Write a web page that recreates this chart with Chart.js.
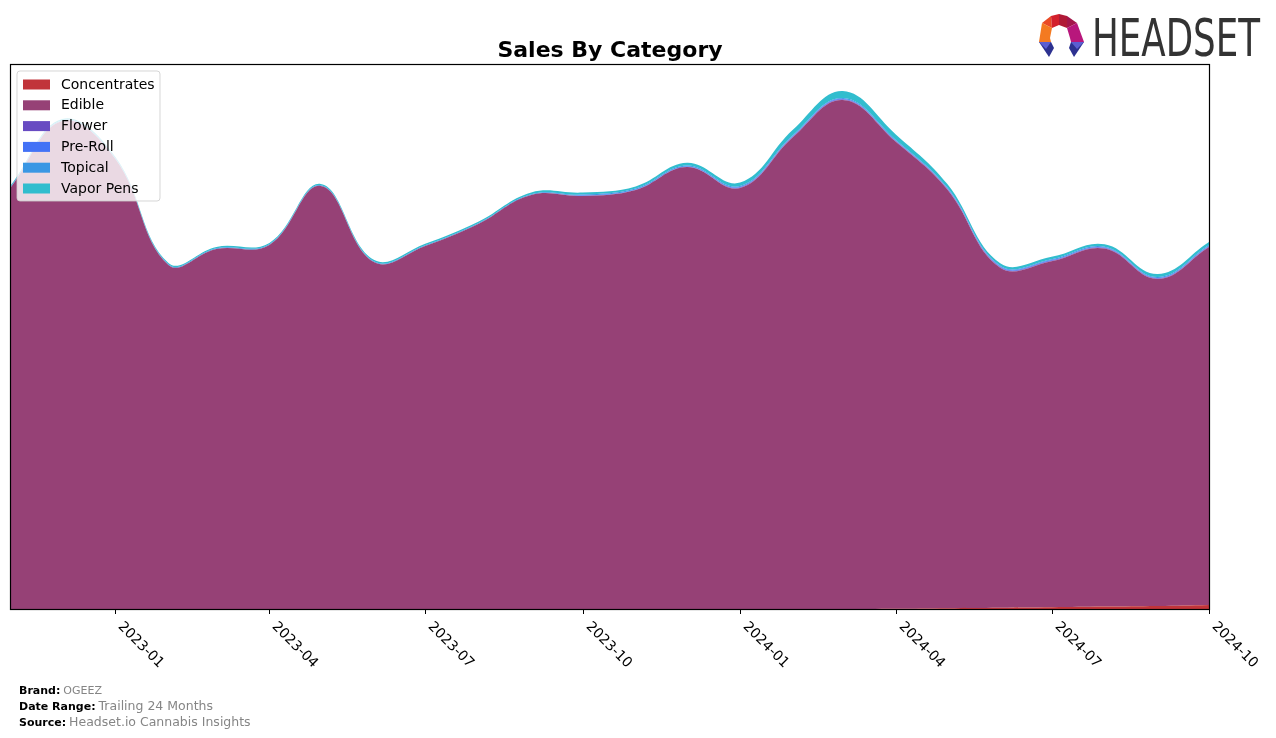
<!DOCTYPE html>
<html>
<head>
<meta charset="utf-8">
<script src="https://cdn.jsdelivr.net/npm/chart.js@4.4.1/dist/chart.umd.min.js"></script>
<style>
  html, body { margin: 0; padding: 0; background: #ffffff; }
  #wrap { width: 1276px; height: 738px; position: relative; }
</style>
</head>
<body>
<div id="wrap"><canvas id="c" width="1276" height="738"></canvas></div>
<script>
// ---- data (monthly, relative sales units) ----
const months = ['2022-11','2022-12','2023-01','2023-02','2023-03','2023-04','2023-05','2023-06',
                '2023-07','2023-08','2023-09','2023-10','2023-11','2023-12','2024-01','2024-02',
                '2024-03','2024-04','2024-05','2024-06','2024-07','2024-08','2024-09','2024-10'];
const concentrates = [0,0,0,0,0,0,0,0,0,0,0,0,0,0,0,0,0,0.2,0.8,1.3,1.8,2.4,3.0,4.0];
const edible = [422,488,450,344,360,364,423,347,363,385,414,413,419,442,421,472,509,467,419,340,346,358,327,358];
const flower = [0,0,0,0,0,0,0,0,0,0,0,0,0,0,0.5,0.5,0.5,0.5,0.5,0.5,0.5,0.5,0.5,0.5];
const preRoll = [0,0,0,0,0,0,0,0,0,0,0,0.6,0.6,0.6,0.6,0.6,0.6,0.6,0.6,0.6,0.6,0.6,0.6,0.6];
const topical = [0.8,0.8,0.8,0.8,0.8,0.8,0.8,0.8,0.8,0.8,0.8,0.8,0.8,0.8,0.8,0.8,0.8,0.8,0.8,0.8,0.8,0.8,0.8,0.8];
const vaporPens = [1.2,1.2,1.2,1.2,1.3,1.3,1.3,1.4,1.5,1.5,1.8,2.0,2.2,2.8,3.5,5.5,7.0,5.5,3.5,2.5,2.5,2.5,3.0,3.0];
const tickLabels = ['2023-01','2023-04','2023-07','2023-10','2024-01','2024-04','2024-07','2024-10'];
const seriesNames = ['Concentrates','Edible','Flower','Pre-Roll','Topical','Vapor Pens'];
const seriesColors = ['#c1343a','#964176','#684bc2','#4372f6','#3a97e4','#31bdce'];
const yMax = 544;

function dayOffset(ym) {
  const p = ym.split('-').map(Number);
  return (Date.UTC(p[0], p[1] - 1, 1) - Date.UTC(2022, 10, 1)) / 86400000;
}
const xMax = dayOffset(months[months.length - 1]);

const seriesData = [concentrates, edible, flower, preRoll, topical, vaporPens];
const datasets = seriesData.map((arr, k) => ({
  label: seriesNames[k],
  data: months.map((m, i) => ({ x: dayOffset(m), y: arr[i] })),
  backgroundColor: seriesColors[k],
  borderColor: seriesColors[k],
  borderWidth: 0,
  pointRadius: 0,
  tension: 0.4,
  fill: k === 0 ? 'origin' : '-1'
}));

const decor = {
  id: 'decor',
  afterDatasetsDraw(chart) {
    const ctx = chart.ctx;
    const a = chart.chartArea;
    const xs = chart.scales.x;
    ctx.save();
    // legend box
    const lx = 17, ly = 71, lw = 143, lh = 130, r = 3;
    ctx.beginPath();
    ctx.moveTo(lx + r, ly);
    ctx.arcTo(lx + lw, ly, lx + lw, ly + lh, r);
    ctx.arcTo(lx + lw, ly + lh, lx, ly + lh, r);
    ctx.arcTo(lx, ly + lh, lx, ly, r);
    ctx.arcTo(lx, ly, lx + lw, ly, r);
    ctx.closePath();
    ctx.fillStyle = 'rgba(255,255,255,0.8)';
    ctx.fill();
    ctx.strokeStyle = 'rgba(204,204,204,0.8)';
    ctx.lineWidth = 1;
    ctx.stroke();
    ctx.font = '14px "DejaVu Sans"';
    ctx.textBaseline = 'middle';
    ctx.textAlign = 'left';
    seriesNames.forEach((n, i) => {
      const cy = 84.5 + i * 20.8;
      ctx.fillStyle = seriesColors[i];
      ctx.fillRect(23, cy - 5, 27, 10);
      ctx.fillStyle = '#000';
      ctx.fillText(n, 61, cy + 0.5);
    });
    // plot border
    ctx.strokeStyle = '#000';
    ctx.lineWidth = 1.2;
    ctx.strokeRect(a.left - 0.5, a.top - 0.5, a.right - a.left + 1, a.bottom - a.top + 1);
    // ticks + rotated labels
    ctx.lineWidth = 1;
    ctx.font = '14px "DejaVu Sans"';
    ctx.textBaseline = 'top';
    ctx.fillStyle = '#000';
    tickLabels.forEach(t => {
      const px = Math.round(xs.getPixelForValue(dayOffset(t)));
      ctx.beginPath();
      ctx.moveTo(px + 0.5, a.bottom);
      ctx.lineTo(px + 0.5, a.bottom + 5);
      ctx.stroke();
      ctx.save();
      ctx.translate(px + 10, a.bottom + 10.5);
      ctx.rotate(Math.PI / 4);
      ctx.fillText(t, 0, 0);
      ctx.restore();
    });
    ctx.restore();
  },
  afterDraw(chart) {
    const ctx = chart.ctx;
    ctx.save();
    // title
    ctx.fillStyle = '#000';
    ctx.font = 'bold 22px "DejaVu Sans"';
    ctx.textAlign = 'center';
    ctx.textBaseline = 'alphabetic';
    ctx.fillText('Sales By Category', 610, 57);
    // footer
    ctx.textAlign = 'left';
    const foot = [['Brand:', 'OGEEZ', 694, 11], ['Date Range:', 'Trailing 24 Months', 710, 12.5], ['Source:', 'Headset.io Cannabis Insights', 726, 12.5]];
    foot.forEach(f => {
      ctx.font = 'bold 11px "DejaVu Sans"';
      ctx.fillStyle = '#000';
      ctx.fillText(f[0], 19, f[2]);
      const w = ctx.measureText(f[0]).width;
      ctx.font = f[3] + 'px "DejaVu Sans"';
      ctx.fillStyle = '#858585';
      ctx.fillText(f[1], 19 + w + 3, f[2]);
    });
    // logo icon
    const polys = [
      ['#ea4a26', [[1042,23],[1051,16],[1052,28]]],
      ['#d3202c', [[1051,16],[1059,14],[1059,25],[1052,28]]],
      ['#b01a36', [[1059,14],[1067,16],[1067,28],[1059,25]]],
      ['#a3164a', [[1067,16],[1077,23],[1067,28]]],
      ['#f47a21', [[1042,23],[1052,28],[1050,38],[1051,42],[1039,42]]],
      ['#b8177c', [[1077,23],[1084,42],[1071,42],[1070,38],[1067,28]]],
      ['#2d3190', [[1039,42],[1051,42],[1054,48],[1049,57]]],
      ['#5b5fd2', [[1039,42],[1051,42],[1046,49]]],
      ['#2d3190', [[1071,42],[1084,42],[1074,57],[1069,48]]],
      ['#5b5fd2', [[1071,42],[1084,42],[1077,49]]]
    ];
    polys.forEach(p => {
      ctx.beginPath();
      p[1].forEach((pt, i) => i ? ctx.lineTo(pt[0], pt[1]) : ctx.moveTo(pt[0], pt[1]));
      ctx.closePath();
      ctx.fillStyle = p[0];
      ctx.fill();
    });
    // logo text
    ctx.font = '52px "Liberation Sans Narrow", "DejaVu Sans Condensed", "Liberation Sans"';
    const tw = ctx.measureText('HEADSET').width;
    ctx.translate(1092, 56);
    ctx.scale(168 / tw, 1);
    ctx.fillStyle = '#333333';
    ctx.fillText('HEADSET', 0, 0);
    ctx.restore();
  }
};

new Chart(document.getElementById('c'), {
  type: 'line',
  data: { datasets },
  options: {
    responsive: false,
    animation: false,
    layout: { padding: { left: 11, right: 67, top: 65, bottom: 129 } },
    plugins: { legend: { display: false }, tooltip: { enabled: false }, title: { display: false } },
    scales: {
      x: { type: 'linear', min: 0, max: xMax, display: false },
      y: { stacked: true, min: 0, max: yMax, display: false }
    }
  },
  plugins: [decor]
});
</script>
</body>
</html>
